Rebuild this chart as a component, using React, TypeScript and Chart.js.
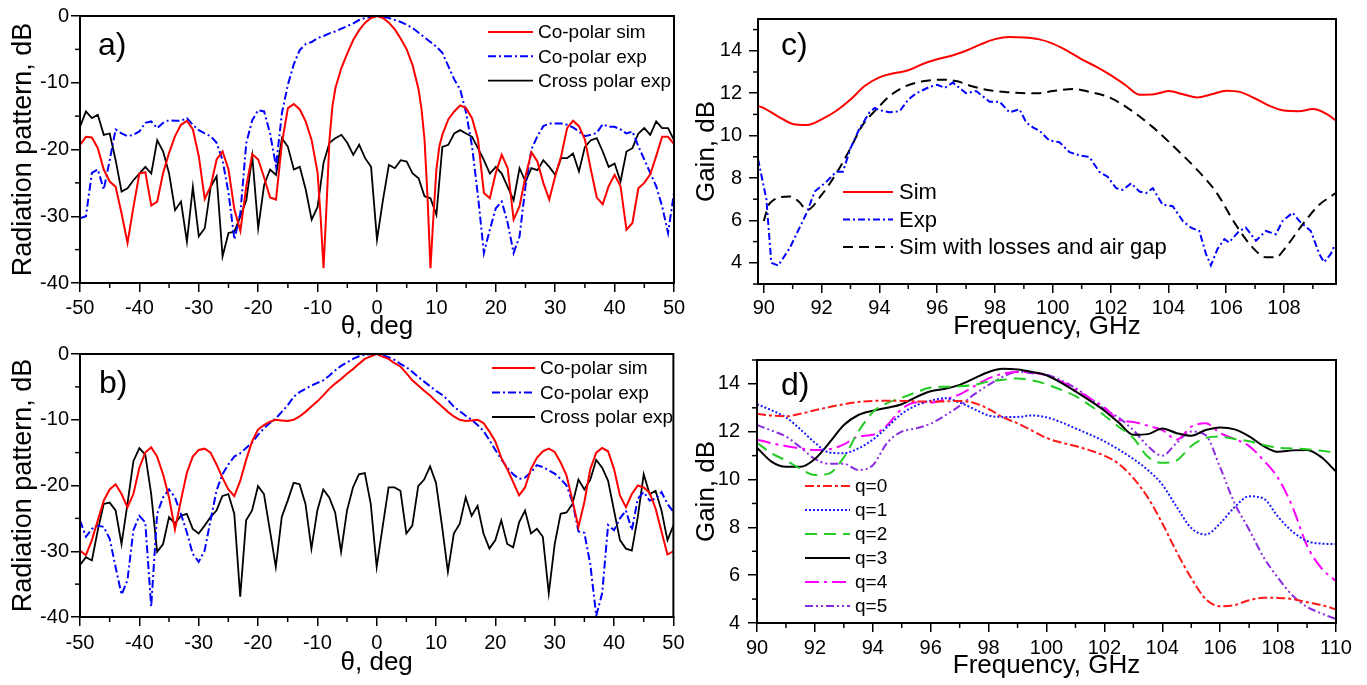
import React, { useEffect, useRef } from 'react';
import { Chart, registerables } from 'chart.js';
Chart.register(...registerables);

const FONT = '"Liberation Sans", Arial, Helvetica, sans-serif';

// ---------- tick values ----------
const thetaMajor = [-50, -40, -30, -20, -10, 0, 10, 20, 30, 40, 50];
const thetaMinor = [-45, -35, -25, -15, -5, 5, 15, 25, 35, 45];
const dbMajor = [-40, -30, -20, -10, 0];
const dbMinor = [-35, -25, -15, -5];
const cFreqMajor = [90, 92, 94, 96, 98, 100, 102, 104, 106, 108];
const cFreqMinor = [91, 93, 95, 97, 99, 101, 103, 105, 107, 109];
const gainMajor = [4, 6, 8, 10, 12, 14];
const cGainMinor = [3, 5, 7, 9, 11, 13, 15];
const dGainMinor = [5, 7, 9, 11, 13, 15];
const dFreqMajor = [90, 92, 94, 96, 98, 100, 102, 104, 106, 108, 110];
const dFreqMinor = [91, 93, 95, 97, 99, 101, 103, 105, 107, 109];

// ---------- panel a / b angle grid ----------
const THETA = [
  -50, -49, -48, -47, -46, -45, -44, -43, -42, -41,
  -40, -39, -38, -37, -36, -35, -34, -33, -32, -31,
  -30, -29, -28, -27, -26, -25, -24, -23, -22, -21,
  -20, -19, -18, -17, -16, -15, -14, -13, -12, -11,
  -10, -9, -8, -7, -6, -5, -4, -3, -2, -1,
  0,
  1, 2, 3, 4, 5, 6, 7, 8, 9, 10,
  11, 12, 13, 14, 15, 16, 17, 18, 19, 20,
  21, 22, 23, 24, 25, 26, 27, 28, 29, 30,
  31, 32, 33, 34, 35, 36, 37, 38, 39, 40,
  41, 42, 43, 44, 45, 46, 47, 48, 49, 50,
];

// ---------- panel a ----------
const aSimTheta = [
  -50, -49, -48, -47, -46, -45, -44, -43, -42, -41,
  -40, -39, -38, -37, -36, -35, -34, -33, -32, -31,
  -30, -29, -28, -27, -26, -25, -24, -23, -22, -21,
  -20, -19, -18, -17, -16, -15, -14, -13, -12, -11,
  -10, -9.5, -9, -8.5, -8, -7.5,
  -7, -6, -5, -4, -3, -2, -1,
  0,
  1, 2, 3, 4, 5, 6, 7,
  7.5, 8, 8.5, 9, 9.5, 10, 10.5,
  11, 12, 13, 14, 15, 16, 17, 18, 19, 20,
  21, 22, 23, 24, 25, 26, 27, 28, 29, 30,
  31, 32, 33, 34, 35, 36, 37, 38, 39, 40,
  41, 42, 43, 44, 45, 46, 47, 48, 49, 50,
];
const aSimDb = [
  -19.3, -18.1, -18.2, -19.8, -23.0, -24.8, -25.6, -29.6, -34.0, -28.6,
  -23.6, -23.4, -28.4, -27.8, -23.5, -20.5, -18.0, -16.3, -15.7, -17.0,
  -21.0, -27.4, -25.5, -21.5, -20.3, -23.0, -29.0, -32.2, -25.5, -20.7,
  -21.5, -24.2, -27.2, -27.5, -19.0, -13.8, -13.2, -14.0, -15.8, -18.6,
  -23.5, -30.0, -37.8, -28.5, -18.5, -13.5,
  -10.8, -7.8, -5.6, -3.6, -2.1, -1.0, -0.3,
  0,
  -0.3, -1.0, -2.0, -3.4, -5.0, -7.4, -11.0,
  -14.0, -18.5, -27.0, -37.8, -30.0, -23.0, -19.5,
  -17.8, -15.5, -14.3, -13.4, -13.8, -15.3, -18.5, -26.5, -27.3, -23.5,
  -20.8, -22.8, -30.5, -28.5, -24.0, -20.4, -21.8, -25.0, -27.5, -24.0,
  -21.0, -16.8, -15.7, -16.5, -18.5, -23.0, -27.2, -28.2, -25.5, -23.8,
  -25.5, -32.0, -31.0, -25.8, -25.0, -23.7, -21.0, -18.1, -18.1, -19.2,
];
const aExpDb = [
  -30.3, -30.0, -23.5, -23.0, -26.0, -21.6, -17.0, -17.6, -18.0, -17.8,
  -17.3, -16.0, -15.8, -16.8, -16.0, -15.6, -15.7, -15.7, -15.3, -16.3,
  -17.1, -17.6, -18.0, -19.0, -21.6, -26.5, -33.5, -29.5, -19.0, -15.6,
  -14.1, -14.3, -17.6, -22.5, -14.5, -10.3, -7.2, -5.1, -4.2, -3.9,
  -3.3, -3.0, -2.6, -2.3, -1.9, -1.5, -1.1, -0.6, -0.3, -0.1,
  0,
  -0.1, -0.3, -0.6, -0.9, -1.3, -1.8, -2.5, -3.2, -3.9, -4.6,
  -5.5, -7.5, -9.5, -11.0, -14.5, -19.5, -27.0, -35.5, -32.0, -28.8,
  -27.8, -31.0, -35.5, -33.0, -25.5, -20.0, -18.0, -16.5, -16.1, -16.1,
  -16.1, -16.3, -16.7, -17.3, -18.0, -17.8, -17.5, -16.2, -16.6, -16.6,
  -17.0, -17.6, -17.3, -19.5, -21.5, -23.5, -25.5, -28.5, -32.5, -26.5,
];
const aCrossDb = [
  -16.6, -14.3, -15.3, -14.8, -17.8, -17.6, -21.6, -26.3, -25.8, -24.6,
  -23.6, -22.6, -23.6, -18.6, -20.3, -23.6, -29.1, -27.8, -33.8, -25.6,
  -33.0, -31.8, -25.6, -24.0, -36.0, -32.5, -32.3, -30.0, -27.6, -21.0,
  -31.8, -25.3, -23.0, -23.8, -18.3, -19.6, -23.0, -22.6, -26.0, -30.5,
  -28.6, -22.0, -19.0, -18.3, -17.8, -19.0, -20.8, -19.3, -21.3, -22.6,
  -33.5,
  -27.6, -22.3, -22.8, -21.6, -21.8, -23.6, -24.3, -27.0, -27.3, -29.8,
  -19.6, -19.3, -17.6, -17.1, -17.6, -18.1, -19.8, -21.6, -23.6, -22.6,
  -23.6, -25.6, -27.6, -22.8, -24.8, -22.8, -23.1, -21.6, -22.6, -23.8,
  -21.3, -21.3, -20.6, -23.3, -19.6, -18.6, -18.3, -20.3, -22.6, -22.1,
  -24.8, -20.3, -19.8, -17.6, -16.8, -17.8, -15.8, -16.8, -16.8, -18.6,
];

// ---------- panel b ----------
const bSimDb = [
  -29.9, -30.6, -28.3, -25.3, -22.3, -20.6, -19.8, -21.3, -23.3, -21.3,
  -17.3, -15.0, -14.2, -15.6, -18.3, -21.8, -26.7, -22.3, -18.1, -15.6,
  -14.6, -14.4, -15.0, -16.8, -18.8, -20.6, -21.6, -19.3, -16.1, -13.3,
  -11.5, -10.8, -10.3, -10.0, -10.1, -10.2, -10.0, -9.5, -8.8, -8.0,
  -7.2, -6.3, -5.3, -4.5, -3.8, -3.0, -2.3, -1.5, -0.75, -0.35,
  0,
  -0.4, -0.75, -1.4, -1.9, -2.9, -4.0, -4.8, -5.6, -6.3, -7.2,
  -8.0, -8.8, -9.5, -10.0, -10.2, -10.1, -10.0, -10.5, -11.8, -13.3,
  -15.8, -17.5, -19.5, -21.5, -20.3, -17.5, -15.8, -14.8, -14.4, -14.9,
  -16.5, -18.5, -22.3, -26.3, -22.5, -17.5, -15.0, -14.3, -14.8, -17.5,
  -21.5, -23.3, -21.3, -20.0, -20.3, -21.1, -23.5, -27.0, -30.5, -30.0,
];
const bExpDb = [
  -25.3, -27.8, -26.6, -26.1, -26.3, -28.1, -32.4, -36.6, -34.4, -26.8,
  -24.6, -25.6, -38.4, -24.3, -21.8, -20.6, -21.8, -24.3, -27.1, -30.4,
  -31.6, -29.9, -25.3, -20.8, -18.3, -16.8, -15.6, -15.1, -14.3, -13.5,
  -12.3, -11.3, -10.5, -9.8, -8.8, -7.8, -6.5, -5.8, -5.3, -4.8,
  -4.4, -4.0, -3.3, -2.5, -1.8, -1.3, -0.75, -0.35, -0.1, -0.05,
  0,
  -0.2, -0.5, -0.9, -1.5, -2.0, -2.7, -3.5, -4.2, -4.9, -5.6,
  -6.2, -7.0, -8.0, -8.7, -9.4, -10.0, -10.8, -11.7, -13.1, -14.6,
  -16.0, -17.3, -18.3, -19.0, -18.8, -18.0, -16.9, -17.2, -17.7, -18.2,
  -19.0, -20.0, -22.5, -27.0, -27.2, -32.0, -39.8, -36.4, -26.0, -26.8,
  -25.0, -23.8, -26.8, -22.0, -21.0, -22.3, -22.0, -21.0, -22.8, -24.0,
];
const bCrossDb = [
  -32.1, -30.9, -31.4, -26.8, -22.8, -22.6, -23.8, -28.9, -22.8, -16.3,
  -14.3, -15.3, -21.3, -30.1, -28.9, -24.8, -25.8, -24.6, -24.3, -26.6,
  -27.3, -26.1, -24.8, -23.8, -21.6, -21.3, -24.3, -36.9, -25.3, -23.8,
  -20.1, -21.3, -26.8, -32.4, -24.8, -22.3, -19.6, -19.8, -22.8, -29.6,
  -23.8, -20.6, -21.8, -24.1, -30.1, -23.8, -20.3, -18.3, -18.1, -22.8,
  -32.4,
  -26.3, -20.3, -20.3, -20.8, -27.3, -26.1, -20.1, -19.1, -17.1, -19.6,
  -26.1, -33.1, -27.3, -25.8, -21.8, -24.6, -23.1, -27.3, -29.6, -28.3,
  -25.3, -28.9, -29.4, -25.6, -23.8, -27.3, -26.6, -27.8, -36.4, -28.9,
  -24.3, -24.1, -22.8, -19.1, -20.6, -19.1, -16.1, -17.3, -19.3, -23.8,
  -28.3, -29.6, -29.9, -24.8, -18.3, -21.3, -20.8, -23.8, -28.3, -26.1,
];

// ---------- panel c ----------
const cSimFreq = [
  89.8, 90, 90.5, 91, 91.5, 92, 92.5, 93, 93.5, 94, 94.5, 95, 95.5, 96, 96.5, 97, 97.5, 98, 98.5, 99, 99.5,
  100, 100.5, 101, 101.5, 102, 102.5, 103, 103.5, 104, 104.5, 105, 105.5, 106, 106.5, 107, 107.5, 108, 108.5, 109, 109.5, 109.8,
];
const cSimGain = [
  11.4, 11.3, 10.9, 10.55, 10.5, 10.77, 11.16, 11.7, 12.35, 12.75, 12.94, 13.08, 13.38, 13.6, 13.77, 14.0, 14.3, 14.55, 14.65, 14.63, 14.55,
  14.34, 14.0, 13.6, 13.25, 12.85, 12.4, 11.93, 11.95, 12.1, 11.95, 11.8, 11.95, 12.12, 12.05, 11.75, 11.4, 11.18, 11.15, 11.25, 11.0, 10.7,
];
const cExpFreq = [
  89.8, 90.09, 90.26, 90.5, 90.9, 91.24, 91.5, 91.76, 92.17, 92.51, 92.74, 93.0, 93.3, 93.66, 93.84, 94.0, 94.35, 94.7,
  95.0, 95.28, 95.74, 96.0, 96.26, 96.54, 97.0, 97.35, 97.81, 98.16, 98.5, 98.85, 99.08, 99.31, 99.54, 99.88,
  100.23, 100.58, 100.92, 101.27, 101.61, 101.9, 102.19, 102.42, 102.71, 103.0, 103.23, 103.46, 103.8, 104.15,
  104.5, 104.78, 105.07, 105.3, 105.47, 105.7, 105.94, 106.1, 106.45, 106.68, 107.03, 107.37, 107.72, 107.95,
  108.3, 108.58, 108.93, 109.22, 109.39, 109.62, 109.77,
];
const cExpGain = [
  8.9, 7.0, 4.0, 3.87, 4.7, 5.66, 6.4, 7.36, 7.83, 8.3, 8.3, 9.4, 10.3, 11.1, 11.3, 11.2, 11.1, 11.15,
  11.7, 12.0, 12.3, 12.4, 12.25, 12.5, 12.0, 12.1, 11.6, 11.6, 11.1, 11.24, 10.62, 10.39, 10.23, 9.77,
  9.69, 9.22, 9.07, 8.99, 8.29, 8.06, 7.52, 7.44, 7.75, 7.36, 7.29, 7.52, 6.74, 6.67,
  5.97, 5.66, 5.5, 4.42, 3.88, 4.65, 5.12, 4.96, 5.5, 5.66, 5.04, 5.5, 5.35, 5.97,
  6.36, 5.9, 5.5, 4.42, 4.03, 4.42, 4.88,
];
const cLossFreq = [
  90, 90.2, 90.9, 91.2, 91.5, 92, 92.5, 93, 93.4, 93.9, 94.35, 94.9, 95.5, 96.2, 96.7, 97.2, 97.8, 98.4, 99.1, 99.54,
  100.0, 100.7, 101.15, 101.96, 102.66, 103.46, 104.15, 104.95, 105.64, 106.33, 106.91, 107.37, 107.72, 108.06,
  108.64, 109.22, 109.62, 109.8,
];
const cLossGain = [
  5.97, 6.8, 7.13, 6.9, 6.5, 7.2, 8.2, 9.4, 10.46, 11.24, 11.86, 12.33, 12.56, 12.64, 12.56, 12.33, 12.14, 12.05, 12.0, 12.0,
  12.1, 12.2, 12.1, 11.8, 11.24, 10.4, 9.53, 8.45, 7.36, 5.8, 4.73, 4.26, 4.26, 4.73,
  5.8, 6.74, 7.13, 7.3,
];

// ---------- panel d ----------
const dFreq = [
  90, 90.5, 91, 91.5, 92, 92.5, 93, 93.5, 94, 94.5, 95, 95.5, 96, 96.5, 97, 97.5, 98, 98.5, 99, 99.5,
  100, 100.5, 101, 101.5, 102, 102.5, 103, 103.5, 104, 104.5, 105, 105.5, 106, 106.5, 107, 107.5, 108, 108.5, 109, 109.5, 110,
];
const q0Gain = [
  12.75, 12.68, 12.65, 12.75, 12.9, 13.03, 13.15, 13.24, 13.29, 13.3, 13.29, 13.27, 13.26, 13.27, 13.29, 13.2, 12.95, 12.6, 12.35, 12.05,
  11.74, 11.55, 11.4, 11.22, 11.0, 10.65, 10.06, 9.25, 8.17, 6.96, 5.88, 5.0, 4.7, 4.75, 4.95, 5.06, 5.05, 5.0, 4.87, 4.75, 4.57,
];
const q1Gain = [
  13.15, 12.9, 12.6, 12.1, 11.54, 11.13, 11.1, 11.3, 11.67, 12.2, 12.75, 13.1, 13.3, 13.4, 13.22, 12.95, 12.68, 12.62, 12.62, 12.68,
  12.6, 12.4, 12.14, 11.88, 11.6, 11.25, 10.86, 10.4, 9.79, 8.85, 7.97, 7.7, 8.17, 8.85, 9.3, 9.2, 8.44, 7.82, 7.43, 7.32, 7.3,
];
const q2Gain = [
  11.54, 11.1, 10.8, 10.45, 10.19, 10.26, 10.93, 12.0, 12.82, 13.2, 13.42, 13.65, 13.85, 13.88, 13.9, 13.96, 14.1, 14.17, 14.23, 14.15,
  13.99, 13.75, 13.49, 13.1, 12.68, 12.2, 11.74, 10.95, 10.7, 10.8, 11.4, 11.74, 11.8, 11.7, 11.6, 11.45, 11.33, 11.3, 11.27, 11.2, 11.13,
];
const q3Gain = [
  11.33, 10.75, 10.53, 10.53, 10.86, 11.54, 12.28, 12.7, 12.88, 13.0, 13.15, 13.45, 13.69, 13.8, 13.96, 14.23, 14.5, 14.63, 14.6, 14.5,
  14.36, 14.05, 13.69, 13.3, 12.88, 12.38, 11.87, 11.9, 12.14, 11.94, 11.83, 12.07, 12.18, 12.1, 11.81, 11.4, 11.16, 11.22, 11.24, 10.93, 10.33,
];
const q4Gain = [
  11.67, 11.52, 11.4, 11.3, 11.24, 11.27, 11.47, 11.8, 11.87, 12.28, 12.95, 13.22, 13.22, 13.35, 13.56, 13.9, 14.23, 14.43, 14.5, 14.48,
  14.36, 14.1, 13.76, 13.4, 13.02, 12.5, 12.41, 12.25, 12.07, 11.67, 12.21, 12.35, 11.94, 11.7, 11.4, 10.8, 10.06, 8.85, 7.23, 6.29, 5.75,
];
const q5Gain = [
  12.28, 12.05, 11.8, 11.35, 10.86, 10.66, 10.66, 10.4, 10.6, 11.54, 12.0, 12.14, 12.34, 12.68, 13.08, 13.56, 13.96, 14.3, 14.5, 14.45,
  14.39, 14.15, 13.83, 13.4, 12.95, 12.58, 12.07, 11.4, 11.0, 11.54, 12.01, 11.85, 10.5, 9.0, 7.9, 6.75, 5.88, 5.15, 4.67, 4.4, 4.16,
];

// ---------- helpers ----------
const pts = (xs: number[], ys: number[]) => xs.map((x, i) => ({ x, y: ys[i] }));

const framePlugin = {
  id: 'frameMinor',
  afterDraw(chart: any, _a: any, o: any) {
    const { ctx, chartArea: a, scales } = chart;
    ctx.save();
    ctx.strokeStyle = '#000';
    ctx.lineWidth = 1.5;
    (o.xMinor || []).forEach((v: number) => {
      const p = scales.x.getPixelForValue(v);
      ctx.beginPath();
      ctx.moveTo(p, a.bottom);
      ctx.lineTo(p, a.bottom + o.minorLen);
      ctx.stroke();
    });
    (o.yMinor || []).forEach((v: number) => {
      const p = scales.y.getPixelForValue(v);
      ctx.beginPath();
      ctx.moveTo(a.left, p);
      ctx.lineTo(a.left - o.minorLen, p);
      ctx.stroke();
    });
    ctx.lineWidth = 2;
    ctx.strokeRect(a.left, a.top, a.right - a.left, a.bottom - a.top);
    ctx.restore();
  },
};

const legendPlugin = {
  id: 'boxLegend',
  afterDraw(chart: any, _a: any, o: any) {
    const ctx = chart.ctx;
    ctx.save();
    chart.data.datasets.forEach((ds: any, i: number) => {
      const y = o.y + i * o.rowH;
      ctx.strokeStyle = ds.borderColor;
      ctx.lineWidth = ds.borderWidth;
      ctx.setLineDash(ds.borderDash || []);
      ctx.beginPath();
      ctx.moveTo(o.x, y);
      ctx.lineTo(o.x + o.lineLen, y);
      ctx.stroke();
      ctx.setLineDash([]);
      ctx.fillStyle = '#000';
      ctx.font = `${o.size}px ${FONT}`;
      ctx.textAlign = 'left';
      ctx.textBaseline = 'middle';
      ctx.fillText(ds.label, o.x + o.lineLen + o.gap, y + 1);
    });
    ctx.restore();
  },
};

const labelPlugin = {
  id: 'panelLabel',
  afterDraw(chart: any, _a: any, o: any) {
    const ctx = chart.ctx;
    ctx.save();
    ctx.fillStyle = '#000';
    ctx.font = `${o.size}px ${FONT}`;
    ctx.textAlign = 'left';
    ctx.textBaseline = 'alphabetic';
    ctx.fillText(o.text, o.x, o.y);
    ctx.restore();
  },
};

type Ax = {
  min: number; max: number; ticks: number[]; title: string;
  titleSize: number; titlePad: number; tickPad: number; size: number;
};

const tickFont = { family: FONT, size: 20, lineHeight: 1.2 };

function xAxis(s: Ax) {
  return {
    type: 'linear', position: 'bottom', min: s.min, max: s.max,
    afterBuildTicks: (sc: any) => { sc.ticks = s.ticks.map((v) => ({ value: v })); },
    afterFit: (sc: any) => { sc.height = s.size; },
    ticks: { color: '#000', font: tickFont, padding: s.tickPad, maxRotation: 0, minRotation: 0, autoSkip: false, callback: (v: any) => String(v) },
    grid: { drawOnChartArea: false, drawTicks: true, tickLength: 9, color: '#000', lineWidth: 1.5 },
    border: { display: true, color: '#000', width: 2 },
    title: { display: true, text: s.title, color: '#000', font: { family: FONT, size: s.titleSize, lineHeight: 1 }, padding: { top: 0, bottom: s.titlePad } },
  };
}
function yAxis(s: Ax) {
  return {
    type: 'linear', position: 'left', min: s.min, max: s.max,
    afterBuildTicks: (sc: any) => { sc.ticks = s.ticks.map((v) => ({ value: v })); },
    afterFit: (sc: any) => { sc.width = s.size; },
    ticks: { color: '#000', font: tickFont, padding: s.tickPad, autoSkip: false, callback: (v: any) => String(v) },
    grid: { drawOnChartArea: false, drawTicks: true, tickLength: 9, color: '#000', lineWidth: 1.5 },
    border: { display: true, color: '#000', width: 2 },
    title: { display: true, text: s.title, color: '#000', font: { family: FONT, size: s.titleSize, lineHeight: 1 }, padding: { top: s.titlePad, bottom: 0 } },
  };
}

function baseConfig(datasets: any[], x: any, y: any, pad: any, plug: any) {
  return {
    type: 'line',
    data: { datasets },
    plugins: [framePlugin, legendPlugin, labelPlugin],
    options: {
      animation: false,
      responsive: true,
      maintainAspectRatio: false,
      events: [],
      parsing: true,
      layout: { padding: pad },
      elements: { point: { radius: 0 }, line: { fill: false } },
      scales: { x, y },
      plugins: { legend: { display: false }, tooltip: { enabled: false }, ...plug },
    },
  };
}

const RED = '#ff0000';
const BLUE = '#0000ff';
const BLACK = '#000000';

function configA() {
  return baseConfig(
    [
      { label: 'Co-polar sim', data: pts(aSimTheta, aSimDb), borderColor: RED, borderWidth: 2, tension: 0 },
      { label: 'Co-polar exp', data: pts(THETA, aExpDb), borderColor: BLUE, borderWidth: 2, borderDash: [8, 3, 2, 3], tension: 0 },
      { label: 'Cross polar exp', data: pts(THETA, aCrossDb), borderColor: BLACK, borderWidth: 1.8, tension: 0 },
    ],
    xAxis({ min: -50, max: 50, ticks: thetaMajor, title: 'θ, deg', titleSize: 26, titlePad: 5, tickPad: 4, size: 62 }),
    yAxis({ min: -40, max: 0, ticks: dbMajor, title: 'Radiation pattern, dB', titleSize: 27, titlePad: 10, tickPad: 2, size: 80 }),
    { left: 0, top: 16, right: 16, bottom: 0 },
    {
      frameMinor: { xMinor: thetaMinor, yMinor: dbMinor, minorLen: 5 },
      boxLegend: { x: 488, y: 32, rowH: 24.3, lineLen: 45, gap: 5, size: 19 },
      panelLabel: { text: 'a)', x: 98, y: 55, size: 32 },
    },
  );
}

function configB() {
  return baseConfig(
    [
      { label: 'Co-polar sim', data: pts(THETA, bSimDb), borderColor: RED, borderWidth: 2, tension: 0 },
      { label: 'Co-polar exp', data: pts(THETA, bExpDb), borderColor: BLUE, borderWidth: 2, borderDash: [8, 3, 2, 3], tension: 0 },
      { label: 'Cross polar exp', data: pts(THETA, bCrossDb), borderColor: BLACK, borderWidth: 1.8, tension: 0 },
    ],
    xAxis({ min: -50, max: 50, ticks: thetaMajor, title: 'θ, deg', titleSize: 26, titlePad: 9, tickPad: 5.5, size: 68 }),
    yAxis({ min: -40, max: 0, ticks: dbMajor, title: 'Radiation pattern, dB', titleSize: 27, titlePad: 10, tickPad: 2, size: 80 }),
    { left: 0, top: 12, right: 16, bottom: 0 },
    {
      frameMinor: { xMinor: thetaMinor, yMinor: dbMinor, minorLen: 5 },
      boxLegend: { x: 492, y: 28, rowH: 24.5, lineLen: 43, gap: 5, size: 19 },
      panelLabel: { text: 'b)', x: 99, y: 53, size: 32 },
    },
  );
}

function configC() {
  return baseConfig(
    [
      { label: 'Sim', data: pts(cSimFreq, cSimGain), borderColor: RED, borderWidth: 2, cubicInterpolationMode: 'monotone' },
      { label: 'Exp', data: pts(cExpFreq, cExpGain), borderColor: BLUE, borderWidth: 2, borderDash: [7, 3, 2, 3], tension: 0 },
      { label: 'Sim with losses and air gap', data: pts(cLossFreq, cLossGain), borderColor: BLACK, borderWidth: 2, borderDash: [10, 6], cubicInterpolationMode: 'monotone' },
    ],
    xAxis({ min: 89.8, max: 109.8, ticks: cFreqMajor, title: 'Frequency, GHz', titleSize: 26, titlePad: 5, tickPad: 3, size: 61 }),
    yAxis({ min: 3, max: 15.5, ticks: gainMajor, title: 'Gain, dB', titleSize: 26, titlePad: 3.5, tickPad: 7, size: 68 }),
    { left: 0, top: 15, right: 31, bottom: 0 },
    {
      frameMinor: { xMinor: cFreqMinor, yMinor: cGainMinor, minorLen: 5 },
      boxLegend: { x: 153, y: 192, rowH: 27.5, lineLen: 50, gap: 6, size: 22 },
      panelLabel: { text: 'c)', x: 91, y: 55, size: 32 },
    },
  );
}

function configD() {
  const m = 'monotone';
  return baseConfig(
    [
      { label: 'q=0', data: pts(dFreq, q0Gain), borderColor: '#ff1a1a', borderWidth: 2, borderDash: [9, 3, 3, 3], cubicInterpolationMode: m },
      { label: 'q=1', data: pts(dFreq, q1Gain), borderColor: '#1a1aff', borderWidth: 2, borderDash: [2, 2], cubicInterpolationMode: m },
      { label: 'q=2', data: pts(dFreq, q2Gain), borderColor: '#22cc22', borderWidth: 2, borderDash: [12, 7], cubicInterpolationMode: m },
      { label: 'q=3', data: pts(dFreq, q3Gain), borderColor: BLACK, borderWidth: 2, cubicInterpolationMode: m },
      { label: 'q=4', data: pts(dFreq, q4Gain), borderColor: '#ff00ff', borderWidth: 2, borderDash: [14, 5, 3, 5], cubicInterpolationMode: m },
      { label: 'q=5', data: pts(dFreq, q5Gain), borderColor: '#8a2be2', borderWidth: 2, borderDash: [8, 3, 2, 3, 2, 3], cubicInterpolationMode: m },
    ],
    xAxis({ min: 90, max: 110, ticks: dFreqMajor, title: 'Frequency, GHz', titleSize: 26, titlePad: 6, tickPad: 4, size: 62 }),
    yAxis({ min: 4, max: 15, ticks: gainMajor, title: 'Gain, dB', titleSize: 26, titlePad: 4, tickPad: 8, size: 67 }),
    { left: 0, top: 11, right: 31, bottom: 0 },
    {
      frameMinor: { xMinor: dFreqMinor, yMinor: dGainMinor, minorLen: 5 },
      boxLegend: { x: 115, y: 146, rowH: 24, lineLen: 45, gap: 5, size: 19 },
      panelLabel: { text: 'd)', x: 91, y: 55, size: 32 },
    },
  );
}

function Panel(props: { left: number; top: number; width: number; height: number; build: () => any }) {
  const ref = useRef<HTMLCanvasElement>(null);
  useEffect(() => {
    const chart = new Chart(ref.current as HTMLCanvasElement, props.build());
    return () => chart.destroy();
  }, []);
  return (
    <div style={{ position: 'absolute', left: props.left, top: props.top, width: props.width, height: props.height }}>
      <canvas ref={ref} />
    </div>
  );
}

export default function App() {
  return (
    <div style={{ position: 'fixed', left: 0, top: 0, width: 1367, height: 685, background: '#fff', overflow: 'hidden' }}>
      <Panel left={0} top={0} width={690} height={345} build={configA} />
      <Panel left={0} top={340} width={690} height={345} build={configB} />
      <Panel left={690} top={0} width={677} height={345} build={configC} />
      <Panel left={690} top={340} width={677} height={345} build={configD} />
    </div>
  );
}
